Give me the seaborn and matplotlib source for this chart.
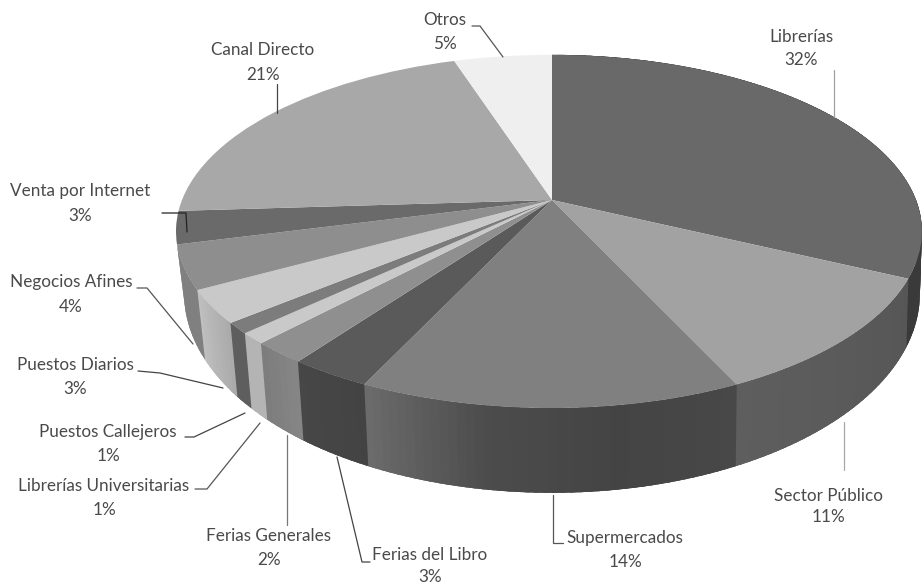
import numpy as np
import matplotlib
matplotlib.use("Agg")
import matplotlib.pyplot as plt
from matplotlib.transforms import Transform
import seaborn as sns

categories = ["Librerías", "Sector Público", "Supermercados", "Ferias del Libro",
              "Ferias Generales", "Librerías Universitarias", "Puestos Callejeros",
              "Puestos Diarios", "Negocios Afines", "Venta por Internet",
              "Canal Directo", "Otros"]
shares = [32, 11, 14, 3, 2, 1, 1, 3, 4, 3, 21, 5]
top_colors = ["#696969", "#a2a2a2", "#808080", "#5a5a5a", "#8f8f8f", "#c9c9c9",
              "#7c7c7c", "#c9c9c9", "#8e8e8e", "#6a6a6a", "#a8a8a8", "#efefef"]
wall_colors = [["#3a3a3a", "#3a3a3a"], ["#565656", "#5e5e5e"],
               ["#484848", "#444444", "#4c4c4c", "#6c6c6c"], ["#434343", "#474747"],
               ["#868686", "#7c7c7c"], ["#b4b4b4", "#b4b4b4"], ["#5e5e5e", "#5e5e5e"],
               ["#aaaaaa", "#c0c0c0"], ["#808080", "#808080"], ["#555555", "#555555"],
               ["#909090", "#909090"], ["#d0d0d0", "#d0d0d0"]]
label_x = [801, 828, 625, 430, 269, 104, 108, 75, 71, 80, 263, 445]
label_y = [37, 496, 538, 555, 536, 486, 432, 365, 282, 191, 50, 20]
pct_y = [60, 517, 562, 577, 560, 510, 456, 389, 307, 216, 75, 44]
leaders = [([834, 834], [70, 117], "#a0a0a0"),
           ([844, 844], [422, 470], "#a8a8a8"),
           ([553, 553, 563], [495, 543, 543], "#555555"),
           ([337, 362, 370], [457, 562, 562], "#444444"),
           ([287, 287], [435, 525], "#777777"),
           ([260, 207, 195], [423, 489, 489], "#555555"),
           ([245, 194, 185], [413, 437, 437], "#444444"),
           ([223, 160, 138], [388, 373, 371], "#444444"),
           ([193, 147, 137], [344, 288, 288], "#555555"),
           ([162, 186, 187], [213, 213, 232], "#222222"),
           ([277, 277], [84, 113], "#444444"),
           ([472, 480, 503], [26, 26, 57], "#555555")]

CX, C = 552.0, 0.178


def project(u, v, top=True):
    """Perspective view of a unit circle (u right, v up) as image pixels."""
    u, v = np.asarray(u, float), np.asarray(v, float)
    d = 1 + C * v
    if top:
        return CX + np.where(u < 0, 370, 364) * u / d, 200 - 171 * v / d
    return CX + 362 * u / d, 258 - 193 * v / d


class Tilt(Transform):
    input_dims = output_dims = 2
    is_separable = False

    def transform_non_affine(self, values):
        x, y = project(values[:, 0], values[:, 1])
        return np.column_stack([x, y])


sns.set_style("white")
plt.rcParams["font.family"] = ["Lato", "DejaVu Sans"]
fig, ax = plt.subplots(figsize=(9.24, 5.86), dpi=100)
fig.subplots_adjust(0, 0, 1, 1)

wedges, _ = ax.pie(shares, colors=top_colors, startangle=90, counterclock=False,
                   wedgeprops=dict(linewidth=0))
ax.set_aspect("auto")
ax.set_xlim(0, 924)
ax.set_ylim(586, 0)
ax.axis("off")

# side wall, drawn in overlapping vertical strips under the top face
edges = np.cumsum([0] + shares) / sum(shares) * 2 * np.pi
for s in range(len(shares)):
    a0, a1 = edges[s], edges[s + 1]
    if a0 > 1.41 * np.pi:
        continue
    stops = np.array([int(c[1:3], 16) for c in wall_colors[s]], float)
    n = max(2, int((a1 - a0) / 0.02))
    th = np.linspace(a0, a1, n + 1)
    step = th[1] - th[0]
    for i in range(n):
        end = th[i + 1] + step * 1.5 if s < 8 else min(th[i + 1] + step * 1.5, a1)
        t = np.linspace(th[i], end, 4)
        xt, yt = project(np.sin(t), np.cos(t), True)
        xb, yb = project(np.sin(t), np.cos(t), False)
        g = np.interp((i + 0.5) / n, np.linspace(0, 1, len(stops)), stops) / 255
        ax.fill(np.r_[xt, xb[::-1]], np.r_[yt, yb[::-1]], color=(g, g, g), lw=0, zorder=1)

tilt = Tilt() + ax.transData
for w in wedges:
    w.set_transform(tilt)
    w.set_zorder(2)
    w.set_clip_on(False)

for xs, ys, c in leaders:
    ax.plot(xs, ys, color=c, lw=0.9, zorder=3, solid_joinstyle="miter")

for name, share, x, y, py in zip(categories, shares, label_x, label_y, pct_y):
    ax.text(x, y, name, ha="center", va="center", fontsize=12.3, color="#4a4a4a", zorder=4)
    ax.text(x, py, f"{share}%", ha="center", va="center", fontsize=12.3, color="#4a4a4a", zorder=4)

fig.savefig("out.png", dpi=100, facecolor="white")
